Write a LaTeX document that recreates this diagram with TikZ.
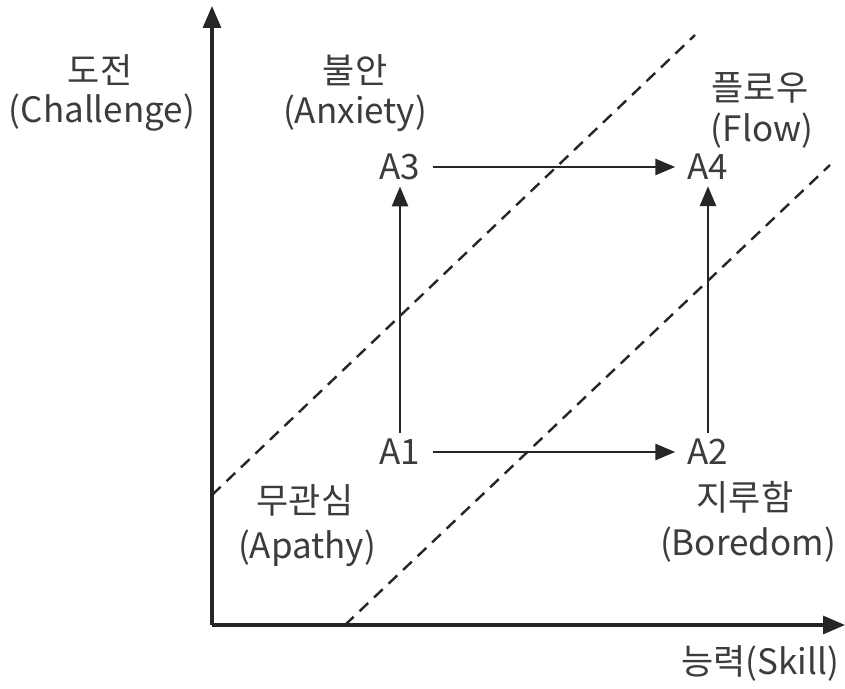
\documentclass[tikz,border=0pt]{standalone}
\usepackage{fontspec}
\setmainfont{Noto Sans CJK KR}
\usetikzlibrary{arrows.meta}
\definecolor{ink}{HTML}{262626}
\definecolor{txt}{HTML}{3C3C3C}
\begin{document}
\begin{tikzpicture}[x=0.5pt,y=-0.5pt,
  lbl/.style={text=txt,font=\fontsize{17.5}{20}\selectfont,inner sep=0pt,align=center},
  st/.style={text=txt,font=\fontsize{17.5}{20}\selectfont,inner xsep=6pt,inner ysep=3pt},
  axis/.style={draw=ink,line width=1.6pt,-{Triangle[length=11pt,width=9pt]}},
  flowarr/.style={draw=ink,line width=1.4pt,-{Triangle[length=10pt,width=8pt]}},
  dsh/.style={draw=ink,line width=1.2pt,dash pattern=on 6pt off 4pt}]
\useasboundingbox (0,0) rectangle (845,689);
\fill[white] (0,0) rectangle (845,689);
% axes
\coordinate (O) at (212,625);
\coordinate (Ytop) at (212,6);
\coordinate (Xend) at (845,625);
\coordinate (d1a) at (212,495);
\coordinate (d1b) at (695,35);
\coordinate (d2a) at (345,625);
\coordinate (d2b) at (830,165);
\draw[dsh] (d1a) -- (d1b);
\draw[dsh] (d2a) -- (d2b);
\draw[axis] (O) -- (Ytop);
\draw[axis] (O) -- (Xend);
% states
\node[st] (A1) at (400,452) {A1};
\node[st] (A2) at (708,452) {A2};
\node[st] (A3) at (400,167) {A3};
\node[st] (A4) at (708,167) {A4};
\draw[flowarr] (A1) -- (A2);
\draw[flowarr] (A3) -- (A4);
\draw[flowarr] (A1) -- (A3);
\draw[flowarr] (A2) -- (A4);
% labels
\node[lbl] (chk) at (100,70) {도전};
\node[lbl] (che) at (102,113) {(Challenge)};
\node[lbl] (ank) at (355,70) {불안};
\node[lbl] (ane) at (355,113) {(Anxiety)};
\node[lbl] (flk) at (760,88) {플로우};
\node[lbl] (fle) at (762,131) {(Flow)};
\node[lbl] (apk) at (305,500) {무관심};
\node[lbl] (ape) at (307,548) {(Apathy)};
\node[lbl] (bok) at (745,497) {지루함};
\node[lbl] (boe) at (748,545) {(Boredom)};
\node[lbl] (sk) at (760,663) {능력(Skill)};
\end{tikzpicture}
\end{document}
